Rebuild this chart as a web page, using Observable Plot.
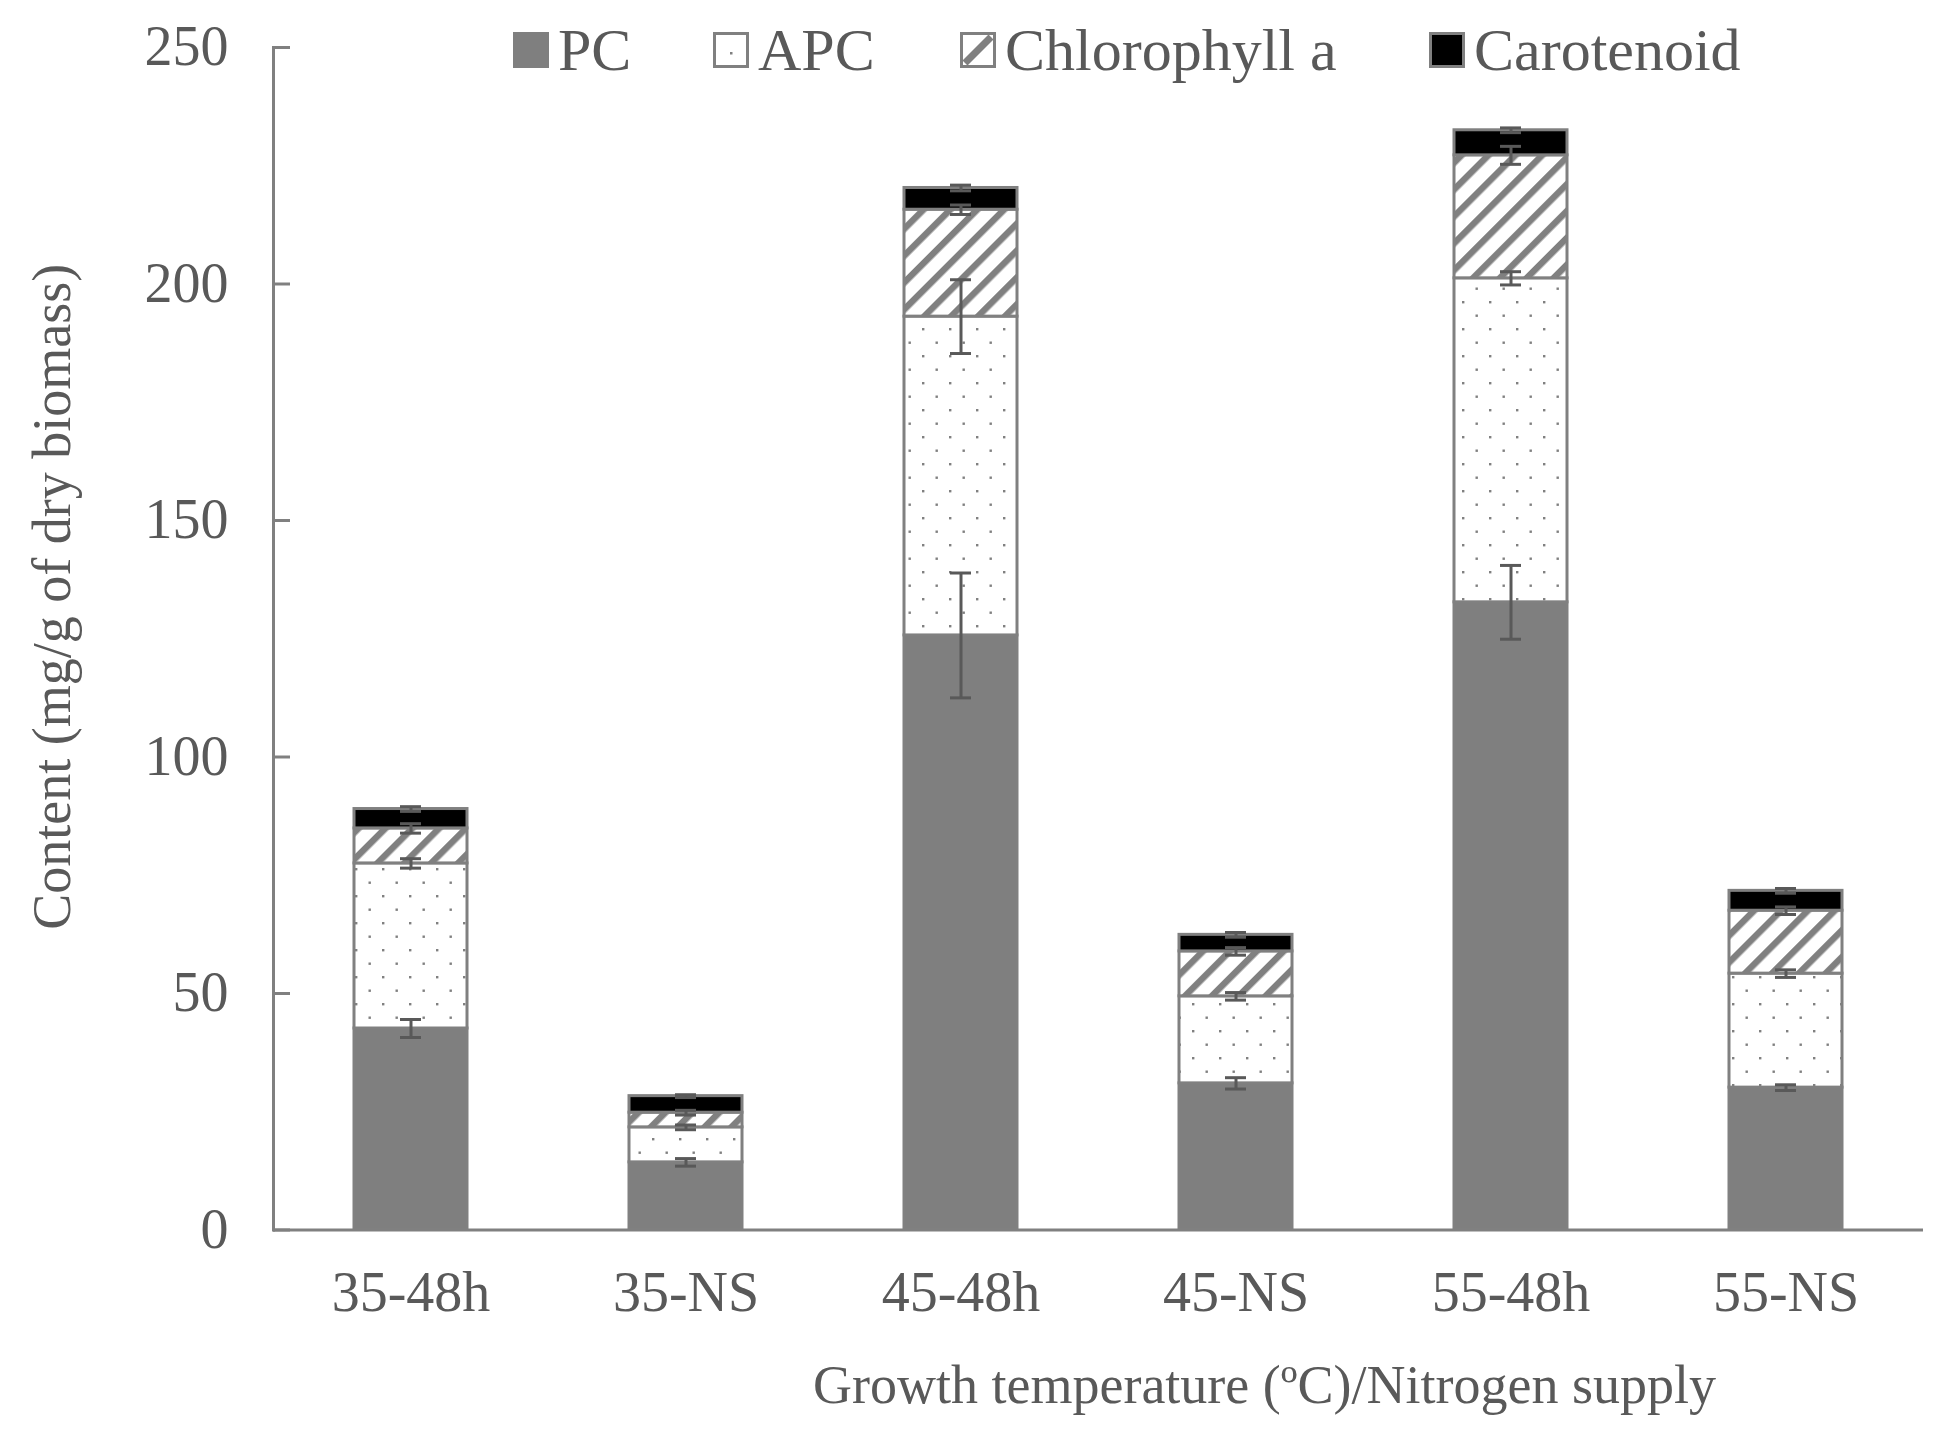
<!DOCTYPE html>
<html>
<head>
<meta charset="utf-8">
<script src="https://cdn.jsdelivr.net/npm/d3@7"></script>
<script src="https://cdn.jsdelivr.net/npm/@observablehq/plot@0.6"></script>
<style>
  html, body { margin: 0; padding: 0; background: #fff; }
  #wrap { position: relative; width: 1948px; height: 1438px; font-family: "Liberation Serif", "DejaVu Serif", serif; }
  #legend { position: absolute; left: 0; top: 0; width: 1948px; height: 100px; pointer-events: none; }
  .item { position: absolute; top: 14px; display: flex; align-items: center; color: #595959; font-size: 60px; line-height: 72px; white-space: nowrap; }
  .item svg { margin-right: 9px; }
</style>
</head>
<body>
<svg width="0" height="0" style="position:absolute">
  <defs>
    <pattern id="dots" patternUnits="userSpaceOnUse" width="27" height="27">
      <rect width="27" height="27" fill="#fff"></rect>
      <rect x="4" y="4" width="2.4" height="2.4" fill="#808080"></rect>
      <rect x="17.5" y="17.5" width="2.4" height="2.4" fill="#808080"></rect>
    </pattern>
    <pattern id="hatch" patternUnits="userSpaceOnUse" width="19" height="19" patternTransform="rotate(45)">
      <rect width="19" height="19" fill="#fff"></rect>
      <rect x="0" y="0" width="6.5" height="19" fill="#808080"></rect>
    </pattern>
  </defs>
</svg>
<div id="wrap">
  <div id="chart"></div>
  <div id="legend"></div>
</div>
<script>
const categories = ["35-48h", "35-NS", "45-48h", "45-NS", "55-48h", "55-NS"];
const series = ["PC", "APC", "Chlorophyll a", "Carotenoid"];
const pc  = [42.6, 14.3, 125.7, 31.0, 132.7, 30.1];
const apc = [34.9, 7.4, 67.4, 18.4, 68.5, 24.1];
const chl = [7.4, 3.1, 22.6, 9.5, 26.0, 13.3];
const car = [4.1, 3.5, 4.6, 3.5, 5.3, 4.2];
const pcErr  = [1.9, 0.8, 13.2, 1.2, 7.8, 0.6];
const apcErr = [1.0, 0.5, 7.8, 0.8, 1.4, 0.8];
const chlErr = [1.0, 0.5, 1.0, 0.8, 1.9, 0.8];
const carErr = [0.5, 0.3, 0.6, 0.5, 0.5, 0.5];
const yTicks = [0, 50, 100, 150, 200, 250];
const xTitle = "Growth temperature (ºC)/Nitrogen supply";
const yTitle = "Content (mg/g of dry biomass)";

const values = [pc, apc, chl, car];
const errs = [pcErr, apcErr, chlErr, carErr];

const rows = [];
const errRows = [];
categories.forEach((c, i) => {
  let cum = 0;
  series.forEach((s, k) => {
    rows.push({cat: c, series: s, value: values[k][i]});
    cum += values[k][i];
    errRows.push({cat: c, series: s, top: cum, lo: cum - errs[k][i], hi: cum + errs[k][i]});
  });
});

const W = 1948, H = 1438;
const mL = 273, mR = 25, mT = 47, mB = 208.5;
const grey = "#808080", textGrey = "#595959";

const chart = Plot.plot({
  width: W, height: H,
  marginLeft: mL, marginRight: mR, marginTop: mT, marginBottom: mB,
  style: {fontFamily: "Liberation Serif, serif", fontSize: "56px", color: textGrey, background: "#fff"},
  x: {domain: categories, paddingInner: 0.59, paddingOuter: 0.295, label: null},
  y: {domain: [0, 250], label: null},
  color: {type: "ordinal", domain: series, range: ["#7f7f7f", "url(#dots)", "url(#hatch)", "#000000"]},
  marks: [
    Plot.barY(rows, {x: "cat", y: "value", fill: "series", stroke: grey, strokeWidth: 3}),
    Plot.ruleX(errRows, {x: "cat", y1: "lo", y2: "hi", stroke: textGrey, strokeWidth: 3}),
    Plot.tickY(errRows, {x: "cat", y: "lo", stroke: textGrey, strokeWidth: 3, insetLeft: 46, insetRight: 46}),
    Plot.tickY(errRows, {x: "cat", y: "hi", stroke: textGrey, strokeWidth: 3, insetLeft: 46, insetRight: 46}),
    Plot.frame({anchor: "left", stroke: grey, strokeWidth: 3}),
    Plot.ruleY([0], {stroke: grey, strokeWidth: 3}),
    Plot.tickY(yTicks, {y: d => d, stroke: grey, strokeWidth: 3, insetRight: W - mL - mR - 17}),
    Plot.axisY({ticks: yTicks, tickSize: 0, tickPadding: 45, label: null, fontSize: 56, fill: textGrey}),
    Plot.axisX({tickSize: 0, tickPadding: 41, label: null, fontSize: 56, fill: textGrey}),
    Plot.text([xTitle], {frameAnchor: "bottom", dx: 166, dy: 156, lineAnchor: "middle", textAnchor: "middle", fontSize: 54, fill: textGrey}),
    Plot.text([yTitle], {frameAnchor: "left", dx: -221, dy: -42, rotate: -90, lineAnchor: "middle", textAnchor: "middle", fontSize: 54, fill: textGrey})
  ]
});
document.getElementById("chart").appendChild(chart);

// legend
const legendItems = [
  {label: series[0], left: 513, sw: '<rect x="1.5" y="1.5" width="33" height="33" fill="#7f7f7f" stroke="#7f7f7f" stroke-width="3"/>'},
  {label: series[1], left: 713, sw: '<rect x="1.5" y="1.5" width="33" height="33" fill="#fff" stroke="#808080" stroke-width="3"/><rect x="17" y="20" width="2.5" height="2.5" fill="#808080"/>'},
  {label: series[2], left: 960, sw: '<rect x="1.5" y="1.5" width="33" height="33" fill="#fff" stroke="#808080" stroke-width="3"/><line x1="5" y1="31" x2="31" y2="5" stroke="#808080" stroke-width="7"/>'},
  {label: series[3], left: 1429, sw: '<rect x="1.5" y="1.5" width="33" height="33" fill="#000" stroke="#808080" stroke-width="3"/>'}
];
const lg = document.getElementById("legend");
legendItems.forEach(it => {
  const d = document.createElement("div");
  d.className = "item";
  d.style.left = it.left + "px";
  d.innerHTML = '<svg width="36" height="36" viewBox="0 0 36 36">' + it.sw + '</svg><span>' + it.label + '</span>';
  lg.appendChild(d);
});
</script>
</body>
</html>
